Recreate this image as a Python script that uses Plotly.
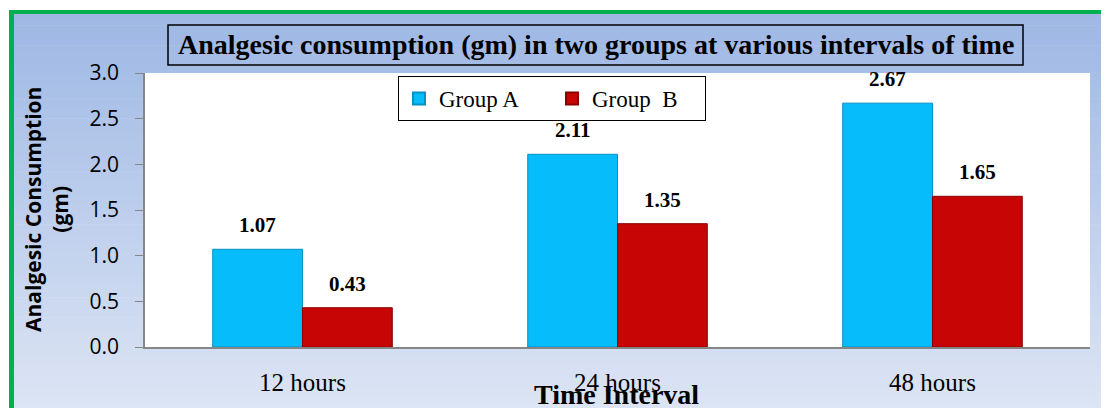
import plotly.graph_objects as go

categories = ["12 hours", "24 hours", "48 hours"]
group_a = [1.07, 2.11, 2.67]
group_b = [0.43, 1.35, 1.65]
series_names = ["Group A", "Group  B"]
y_ticks = [0.0, 0.5, 1.0, 1.5, 2.0, 2.5, 3.0]

# page body margin offset (browser default 8px)
OFF = 8
W, H = 1109 - OFF, 408 - OFF
# plot area in reference (window) pixels
PX0, PX1, PY0, PY1 = 145, 1090, 73, 347
L, T = PX0 - OFF, PY0 - OFF
R = W - (PX1 - OFF)
B = H - (PY1 - OFF)
PW, PH = PX1 - PX0, PY1 - PY0

def px_x(p):
    return (p - PX0) / PW

def px_y(p):
    return (PY1 - p) / PH

SERIF = "Liberation Serif"
SANS = "Open Sans"
BARGAP = 0.43
BLUE = "#07BCFA"
RED = "#C80505"

fig = go.Figure()
fig.add_bar(x=categories, y=group_a, name=series_names[0], marker=dict(color=BLUE, line=dict(color="#0490C0", width=1)))
fig.add_bar(x=categories, y=group_b, name=series_names[1], marker=dict(color=RED, line=dict(color="#8A0000", width=1)))

shapes = []
top_c = (157, 183, 228)
bot_c = (221, 229, 244)
N = 60
y0p, y1p = 12, 410
for i in range(N):
    a = y0p + (y1p - y0p) * i / N
    b = y0p + (y1p - y0p) * (i + 1) / N
    t = (i + 0.5) / N
    c = tuple(round(top_c[k] + (bot_c[k] - top_c[k]) * t) for k in range(3))
    shapes.append(dict(type="rect", xref="paper", yref="paper", layer="below",
                       x0=px_x(11), x1=px_x(1112), y0=px_y(b + 0.6), y1=px_y(a),
                       fillcolor="rgb(%d,%d,%d)" % c, line=dict(width=0)))
shapes.append(dict(type="rect", xref="paper", yref="paper", layer="below",
                   x0=px_x(9), x1=px_x(1112), y0=px_y(14), y1=px_y(10),
                   fillcolor="#00B050", line=dict(width=0)))
shapes.append(dict(type="rect", xref="paper", yref="paper", layer="below",
                   x0=px_x(9), x1=px_x(14), y0=px_y(412), y1=px_y(10),
                   fillcolor="#00B050", line=dict(width=0)))
shapes.append(dict(type="rect", xref="paper", yref="paper", layer="below",
                   x0=0, x1=1, y0=0, y1=1, fillcolor="white", line=dict(width=0)))
shapes.append(dict(type="rect", xref="paper", yref="paper", layer="above",
                   x0=px_x(168), x1=px_x(1023), y0=px_y(65), y1=px_y(25),
                   fillcolor="rgba(0,0,0,0)", line=dict(color="black", width=1.5)))

annotations = []
annotations.append(dict(xref="paper", yref="paper", x=px_x(596), y=px_y(45),
                        text="<b>Analgesic consumption (gm) in two groups at various intervals of time</b>",
                        showarrow=False, xanchor="center", yanchor="middle",
                        font=dict(family=SERIF, size=28, color="black")))
annotations.append(dict(xref="paper", yref="paper", x=px_x(46), y=px_y(210),
                        text="<b>Analgesic Consumption<br>(gm)</b>", textangle=-90,
                        showarrow=False, xanchor="center", yanchor="middle",
                        font=dict(family=SANS, size=21, color="black")))
annotations.append(dict(xref="paper", yref="paper", x=px_x(616), y=px_y(394),
                        text="<b>Time Interval</b>",
                        showarrow=False, xanchor="center", yanchor="middle",
                        font=dict(family=SERIF, size=28, color="black")))

half = (1 - BARGAP) / 2
for vals, off in [(group_a, -half / 2), (group_b, half / 2)]:
    for i, v in enumerate(vals):
        annotations.append(dict(xref="x", yref="y", x=i + off, y=v,
                                text="<b>%.2f</b>" % v, showarrow=False,
                                xanchor="center", yanchor="bottom", yshift=10,
                                font=dict(family=SERIF, size=21, color="black")))

fig.update_layout(
    width=W, height=H,
    margin=dict(l=L, r=R, t=T, b=B, autoexpand=False),
    paper_bgcolor="white",
    plot_bgcolor="rgba(0,0,0,0)",
    barmode="group", bargap=BARGAP, bargroupgap=0,
    shapes=shapes, annotations=annotations,
    showlegend=True,
    legend=dict(orientation="h", x=px_x(398), y=px_y(76), xanchor="left", yanchor="top",
                bgcolor="white", bordercolor="black", borderwidth=1,
                font=dict(family=SERIF, size=23, color="black"),
                entrywidth=108, entrywidthmode="pixels",
                itemsizing="constant", traceorder="normal"),
    xaxis=dict(type="category", showline=True, linecolor="#868686", linewidth=2,
               ticks="", showgrid=False, ticklabelstandoff=12,
               tickfont=dict(family=SERIF, size=25, color="black")),
    yaxis=dict(range=[0, 3], tickvals=y_ticks, tickformat=".1f", showline=True,
               linecolor="#868686", linewidth=1.5, ticks="outside", ticklen=8,
               tickcolor="#868686", showgrid=False, zeroline=False, ticklabelstandoff=12,
               tickfont=dict(family=SANS, size=21, color="black")),
)

fig.write_html("out.html")
